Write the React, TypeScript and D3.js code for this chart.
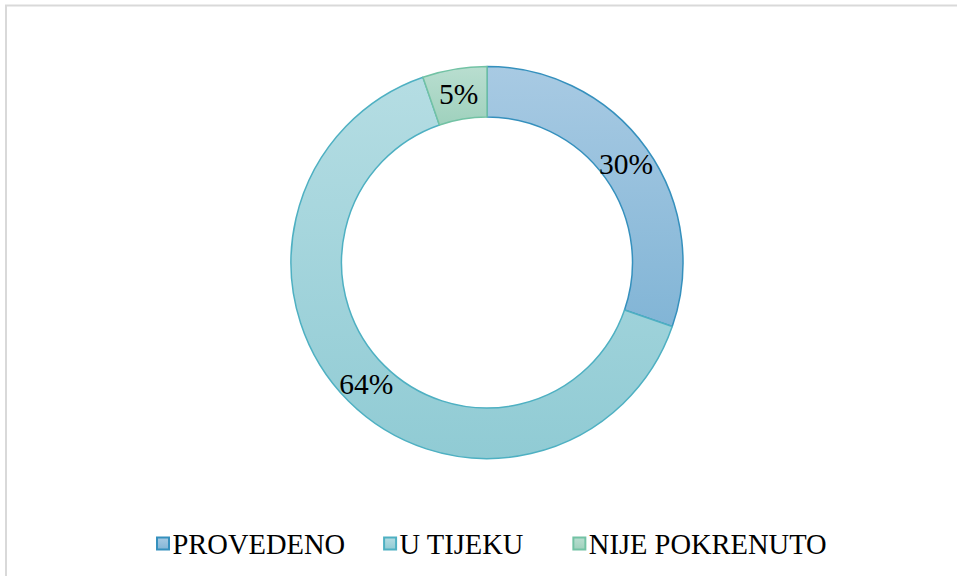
import React, { useEffect, useRef } from "react";
import * as d3 from "d3";

const categories = ["PROVEDENO", "U TIJEKU", "NIJE POKRENUTO"];
const values = [30.3, 64.4, 5.3];
const labels = ["30%", "64%", "5%"];
const fillTop = ["#a8cae3", "#b5dde3", "#b9ded0"];
const fillBottom = ["#82b5d6", "#90cbd4", "#9fd1bd"];
const strokes = ["#3590bd", "#4eb0c2", "#72c2a4"];

const FONT = "'Liberation Serif', 'Times New Roman', serif";

export default function App() {
  const ref = useRef<SVGSVGElement | null>(null);

  useEffect(() => {
    const svg = d3.select(ref.current);
    svg.selectAll("*").remove();
    const W = 957, H = 576;
    const cx = 487, cy = 262.5, rOuter = 196, rInner = 145.5;

    const defs = svg.append("defs");
    categories.forEach((c, i) => {
      const g = defs.append("linearGradient")
        .attr("id", "grad" + i)
        .attr("x1", 0).attr("y1", 0)
        .attr("x2", 0).attr("y2", 1);
      g.append("stop").attr("offset", "0%").attr("stop-color", fillTop[i]);
      g.append("stop").attr("offset", "100%").attr("stop-color", fillBottom[i]);
    });

    svg.append("rect").attr("width", W).attr("height", H).attr("fill", "#ffffff");
    svg.append("rect")
      .attr("x", 6).attr("y", 5.5).attr("width", W + 20).attr("height", H + 20)
      .attr("fill", "none").attr("stroke", "#d9d9d9").attr("stroke-width", 2);

    const pie = d3.pie<number>().sort(null).value((d) => d);
    const arcs = pie(values);
    const arc = d3.arc<d3.PieArcDatum<number>>().innerRadius(rInner).outerRadius(rOuter);

    const g = svg.append("g").attr("transform", `translate(${cx},${cy})`);
    g.selectAll("path.slice")
      .data(arcs)
      .join("path")
      .attr("class", "slice")
      .attr("d", arc as any)
      .attr("fill", (_d, i) => `url(#grad${i})`)
      .attr("stroke", (_d, i) => strokes[i])
      .attr("stroke-width", 1.5)
      .attr("stroke-linejoin", "round");

    g.selectAll("text.lbl")
      .data(arcs)
      .join("text")
      .attr("class", "lbl")
      .attr("transform", (d) => {
        const [x, y] = arc.centroid(d);
        return `translate(${x},${y})`;
      })
      .attr("text-anchor", "middle")
      .attr("dy", "0.35em")
      .style("font-family", FONT)
      .style("font-size", "29.5px")
      .attr("fill", "#000")
      .text((_d, i) => labels[i]);

    // legend
    const legend = svg.append("g");
    const box = 12, gap = 3.5;
    const itemGaps = [39, 50];
    const items = categories.map((c, i) => {
      const it = legend.append("g");
      it.append("rect")
        .attr("width", box).attr("height", box)
        .attr("fill", `url(#grad${i})`)
        .attr("stroke", strokes[i]).attr("stroke-width", 2);
      const t = it.append("text")
        .attr("x", box + gap)
        .attr("y", box / 2)
        .attr("dy", "0.36em")
        .style("font-family", FONT)
        .style("font-size", "28.5px")
        .attr("fill", "#000")
        .text(c);
      const w = (t.node() as SVGTextElement).getComputedTextLength();
      return { it, w: box + gap + w };
    });
    let x = 157;
    const yBox = 537.5;
    items.forEach((d, i) => {
      d.it.attr("transform", `translate(${x},${yBox})`);
      x += d.w + (itemGaps[i] ?? 0);
    });
  }, []);

  return (
    <svg
      ref={ref}
      width={957}
      height={576}
      style={{ position: "absolute", left: 0, top: 0, display: "block" }}
    />
  );
}
